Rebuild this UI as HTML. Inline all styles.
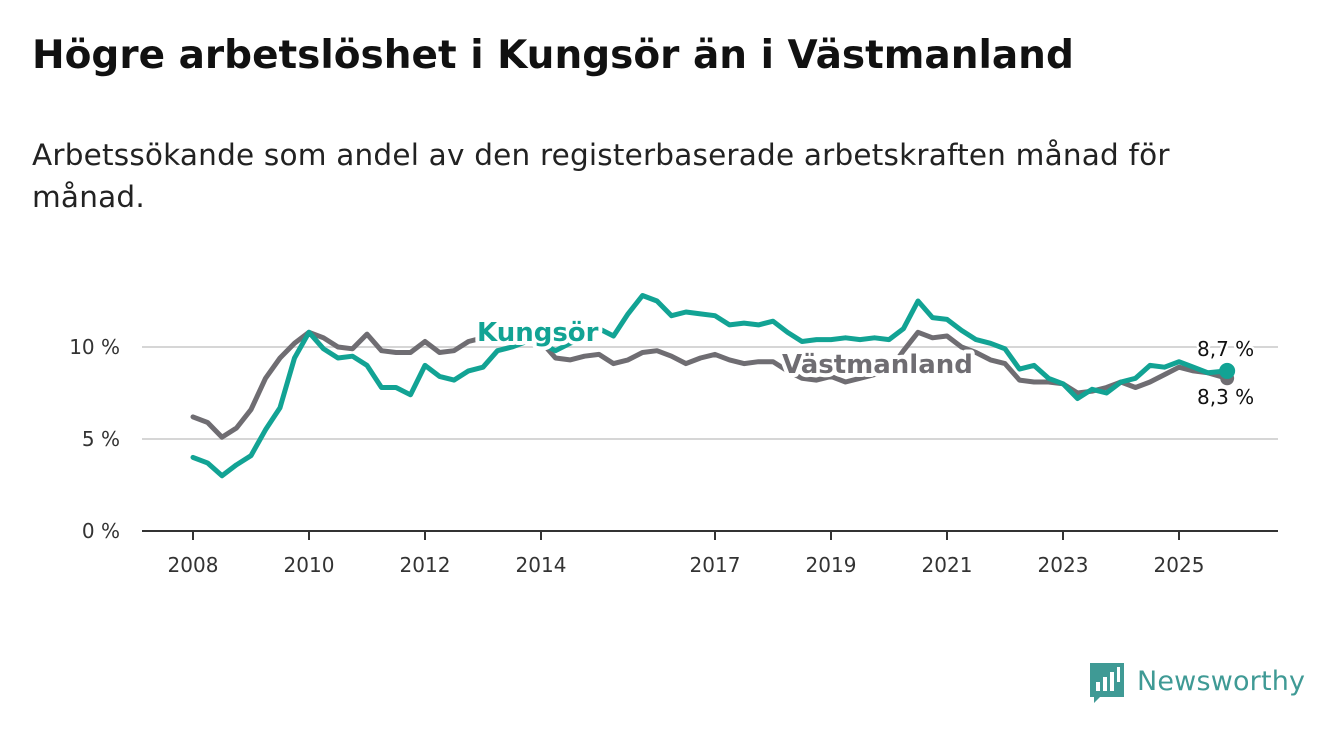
<!DOCTYPE html>
<html><head><meta charset="utf-8"><style>
body{margin:0;background:#fff;width:1340px;height:734px;overflow:hidden;font-family:"DejaVu Sans","Liberation Sans",sans-serif}
h1{position:absolute;left:32px;top:33px;margin:0;font-size:39px;font-weight:bold;color:#111;white-space:nowrap}
.sub{position:absolute;left:32px;top:134px;font-size:29.5px;line-height:42px;color:#222;width:1200px;letter-spacing:0.2px}
svg{position:absolute;left:0;top:0}
</style></head><body>
<h1>Högre arbetslöshet i Kungsör än i Västmanland</h1>
<div class="sub">Arbetssökande som andel av den registerbaserade arbetskraften månad för månad.</div>
<svg id="c" width="1340" height="734" font-family="DejaVu Sans, Liberation Sans, sans-serif"></svg>
<script>
const times=[2008,2008.25,2008.5,2008.75,2009,2009.25,2009.5,2009.75,2010,2010.25,2010.5,2010.75,2011,2011.25,2011.5,2011.75,2012,2012.25,2012.5,2012.75,2013,2013.25,2013.5,2013.75,2014,2014.25,2014.5,2014.75,2015,2015.25,2015.5,2015.75,2016,2016.25,2016.5,2016.75,2017,2017.25,2017.5,2017.75,2018,2018.25,2018.5,2018.75,2019,2019.25,2019.5,2019.75,2020,2020.25,2020.5,2020.75,2021,2021.25,2021.5,2021.75,2022,2022.25,2022.5,2022.75,2023,2023.25,2023.5,2023.75,2024,2024.25,2024.5,2024.75,2025,2025.25,2025.5,2025.83];
const kungsor=[4.0,3.7,3.0,3.6,4.1,5.5,6.7,9.4,10.8,9.9,9.4,9.5,9.0,7.8,7.8,7.4,9.0,8.4,8.2,8.7,8.9,9.8,10.0,10.3,10.2,9.8,10.2,10.5,11.0,10.6,11.8,12.8,12.5,11.7,11.9,11.8,11.7,11.2,11.3,11.2,11.4,10.8,10.3,10.4,10.4,10.5,10.4,10.5,10.4,11.0,12.5,11.6,11.5,10.9,10.4,10.2,9.9,8.8,9.0,8.3,8.0,7.2,7.7,7.5,8.1,8.3,9.0,8.9,9.2,8.9,8.6,8.7];
const vastmanland=[6.2,5.9,5.1,5.6,6.6,8.3,9.4,10.2,10.8,10.5,10.0,9.9,10.7,9.8,9.7,9.7,10.3,9.7,9.8,10.3,10.5,10.6,10.6,10.5,10.3,9.4,9.3,9.5,9.6,9.1,9.3,9.7,9.8,9.5,9.1,9.4,9.6,9.3,9.1,9.2,9.2,8.7,8.3,8.2,8.4,8.1,8.3,8.5,8.7,9.8,10.8,10.5,10.6,10.0,9.7,9.3,9.1,8.2,8.1,8.1,8.0,7.5,7.6,7.8,8.1,7.8,8.1,8.5,8.9,8.7,8.6,8.3];
const yTicks=[0,5,10];
const xTicks=[2008,2010,2012,2014,2017,2019,2021,2023,2025];
const X=t=>193+58*(t-2008), Y=v=>531-18.4*v;
const svg=document.getElementById('c'),NS='http://www.w3.org/2000/svg';
function mk(tag,at,txt){const e=document.createElementNS(NS,tag);for(const k in at)e.setAttribute(k,at[k]);if(txt!=null)e.textContent=txt;svg.appendChild(e);return e;}
yTicks.forEach(v=>{
 if(v>0){const g=mk('line',{x1:142,x2:1278,y1:Y(v),y2:Y(v),stroke:'#d6d6d6','stroke-width':2});
 
 }
 const t=mk('text',{x:120,y:Y(v)+7,'text-anchor':'end','font-size':20,fill:'#333'},v+' %');
 
 
});
const ax=mk('line',{x1:142,x2:1278,y1:531,y2:531,stroke:'#333','stroke-width':2});


xTicks.forEach(y=>{
 const tk=mk('line',{x1:X(y),x2:X(y),y1:531,y2:540,stroke:'#333','stroke-width':2});
 
 
 const t=mk('text',{x:X(y),y:572,'text-anchor':'middle','font-size':20,fill:'#333'},y);
 
 
});
function line(vals,col,name){const d=vals.map((v,i)=>(i?'L':'M')+X(times[i]).toFixed(1)+','+Y(v).toFixed(1)).join('');
 const p=mk('path',{d:d,fill:'none',stroke:col,'stroke-width':5,'stroke-linejoin':'round','stroke-linecap':'round'});
 
 }
line(vastmanland,'#6f6d72','vastmanland-line');
line(kungsor,'#12a394','kungsor-line');
const n=times.length-1;
const dg=mk('circle',{cx:X(times[n]),cy:Y(vastmanland[n]),r:7,fill:'#6f6d72'});


const dk=mk('circle',{cx:X(times[n]),cy:Y(kungsor[n]),r:8,fill:'#12a394'});


const l1=mk('text',{x:477,y:341,'font-size':26,'font-weight':'bold',fill:'#12a394',stroke:'#fff','stroke-width':8,'paint-order':'stroke','stroke-linejoin':'round'},'Kungsör');


const l2=mk('text',{x:782,y:373,'font-size':26,'font-weight':'bold',fill:'#6f6d72',stroke:'#fff','stroke-width':8,'paint-order':'stroke','stroke-linejoin':'round'},'Västmanland');


const v1=mk('text',{x:1197,y:356,'font-size':20,fill:'#111',stroke:'#fff','stroke-width':5,'paint-order':'stroke'},String(kungsor[n]).replace('.',',')+' %');


const v2=mk('text',{x:1197,y:404,'font-size':20,fill:'#111',stroke:'#fff','stroke-width':5,'paint-order':'stroke'},String(vastmanland[n]).replace('.',',')+' %');


</script>
<svg width="1340" height="734" style="pointer-events:none">
<path d="M1090 663h34v34h-24l-6 6v-6h-4z" fill="#3f9a95"/>
<rect x="1096" y="682" width="4" height="9" fill="#fff"/><rect x="1103" y="677" width="4" height="14" fill="#fff"/><rect x="1110" y="672" width="4" height="19" fill="#fff"/><rect x="1117" y="667" width="3" height="15" fill="#fff"/>
<text x="1137" y="690" font-size="27" fill="#3f9a95" font-family="DejaVu Sans, Liberation Sans, sans-serif" textLength="168">Newsworthy</text>
</svg>
</body></html>
